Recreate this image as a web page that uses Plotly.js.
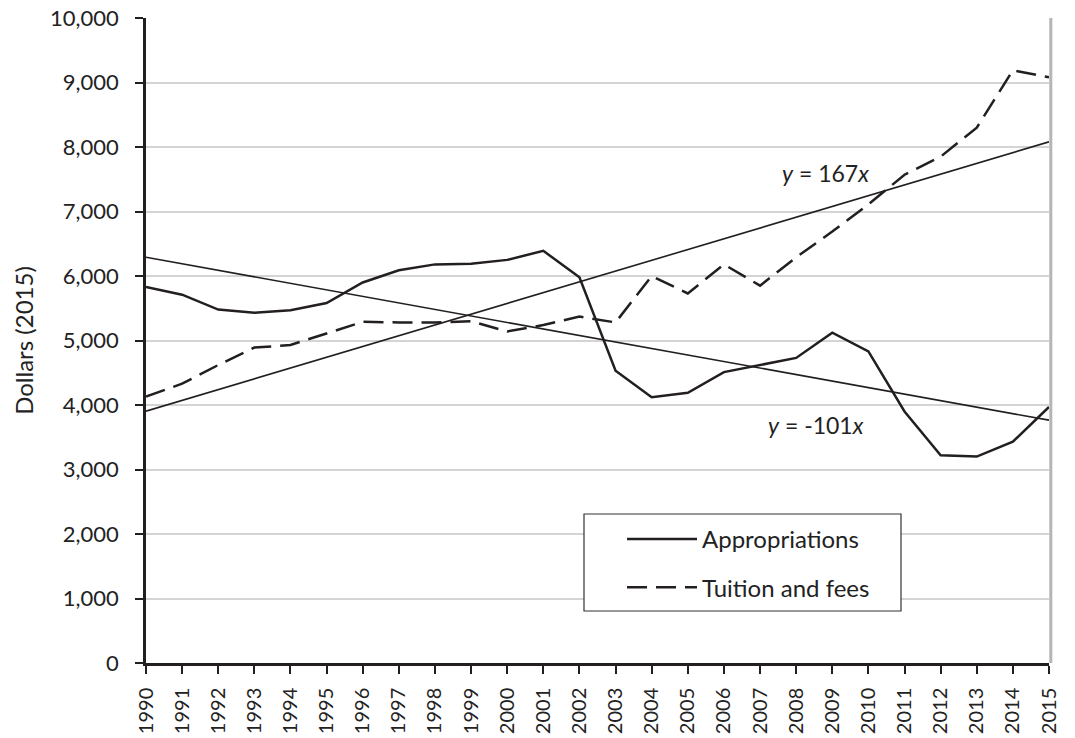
<!DOCTYPE html>
<html>
<head>
<meta charset="utf-8">
<script src="https://cdn.plot.ly/plotly-3.0.1.min.js"></script>
<style>
  html, body { margin: 0; padding: 0; background: #ffffff; }
  #chart { width: 1075px; height: 738px; }
</style>
</head>
<body>
<div id="chart"></div>
<script>
// Values (dollars, 2015)
const years = [1990, 1991, 1992, 1993, 1994, 1995, 1996, 1997, 1998, 1999, 2000, 2001, 2002,
  2003, 2004, 2005, 2006, 2007, 2008, 2009, 2010, 2011, 2012, 2013, 2014, 2015];
const appropriations = [5830, 5710, 5480, 5430, 5470, 5580, 5900, 6090, 6180, 6190, 6250, 6390, 5980,
  4530, 4120, 4190, 4510, 4620, 4730, 5120, 4830, 3900, 3220, 3200, 3430, 3970];
const tuition = [4130, 4330, 4620, 4890, 4930, 5110, 5290, 5280, 5280, 5300, 5140, 5240, 5370,
  5280, 6000, 5730, 6180, 5850, 6290, 6690, 7110, 7570, 7850, 8300, 9190, 9080];

// Trend line end points (as drawn)
const trendYears = [1990, 2015];
const tuitionTrend = [3905, 8080];
const appropriationsTrend = [6290, 3765];

const ink = '#231f20';
const font = 'Lato, "Open Sans", "Liberation Sans", sans-serif';

Plotly.newPlot('chart', [
  {
    x: years, y: appropriations, name: 'Appropriations', legendgroup: 'a',
    type: 'scatter', mode: 'lines',
    line: { color: ink, width: 2.5 },
  },
  {
    x: years, y: tuition, name: 'Tuition and fees', legendgroup: 't',
    type: 'scatter', mode: 'lines',
    line: { color: ink, width: 2.5, dash: '20px,9px' },
  },
  {
    x: trendYears, y: tuitionTrend, showlegend: false,
    type: 'scatter', mode: 'lines',
    line: { color: ink, width: 1.6 },
  },
  {
    x: trendYears, y: appropriationsTrend, showlegend: false,
    type: 'scatter', mode: 'lines',
    line: { color: ink, width: 1.6 },
  },
], {
  width: 1075,
  height: 738,
  margin: { l: 146, r: 26, t: 18, b: 75 },
  paper_bgcolor: '#ffffff',
  plot_bgcolor: '#ffffff',
  font: { family: font, color: '#222222', size: 22 },
  showlegend: true,
  legend: {
    x: (622 - 146) / 903, y: (663 - 517) / 645, xanchor: 'left', yanchor: 'top',
    borderwidth: 0, bgcolor: 'rgba(0,0,0,0)',
    font: { family: font, size: 24, color: '#222222' },
    itemwidth: 70,
    traceorder: 'grouped',
    tracegroupgap: 14,
  },
  xaxis: {
    range: [1990, 2015],
    tickmode: 'array', tickvals: years, ticktext: years.map(String),
    tickangle: -90,
    tickfont: { size: 20 },
    ticks: 'outside', ticklen: 8, tickwidth: 2, tickcolor: ink,
    ticklabelstandoff: 6,
    showline: true, linecolor: ink, linewidth: 2.5,
    showgrid: false, zeroline: false,
  },
  yaxis: {
    range: [0, 10000],
    tickvals: [0, 1000, 2000, 3000, 4000, 5000, 6000, 7000, 8000, 9000, 10000],
    tickformat: ',d',
    tickfont: { size: 22 },
    ticks: 'outside', ticklen: 8, tickwidth: 2, tickcolor: ink,
    ticklabelstandoff: 12,
    showline: true, linecolor: ink, linewidth: 2.5,
    showgrid: true, gridcolor: '#d4d4d4', gridwidth: 1.5,
    zeroline: false,
    title: { text: 'Dollars (2015)', font: { size: 24 }, standoff: 10 },
  },
  shapes: [
    { type: 'line', xref: 'paper', yref: 'paper', x0: 1.002, x1: 1.002, y0: 0, y1: 1,
      line: { color: '#b5b5b5', width: 3 } },
    // legend frame
    { type: 'rect', xref: 'paper', yref: 'paper',
      x0: (584 - 146) / 903, x1: (901 - 146) / 903,
      y0: (663 - 611) / 645, y1: (663 - 514) / 645,
      fillcolor: '#ffffff', line: { color: '#333333', width: 1.2 } },
  ],
  annotations: [
    { xref: 'x', yref: 'y', x: 2008.8, y: 7600, text: '<i>y</i> = 167<i>x</i>',
      showarrow: false, font: { size: 23, color: '#222222' } },
    { xref: 'x', yref: 'y', x: 2008.55, y: 3690, text: '<i>y</i> = -101<i>x</i>',
      showarrow: false, font: { size: 23, color: '#222222' } },
  ],
}, { displayModeBar: false });
</script>
</body>
</html>
